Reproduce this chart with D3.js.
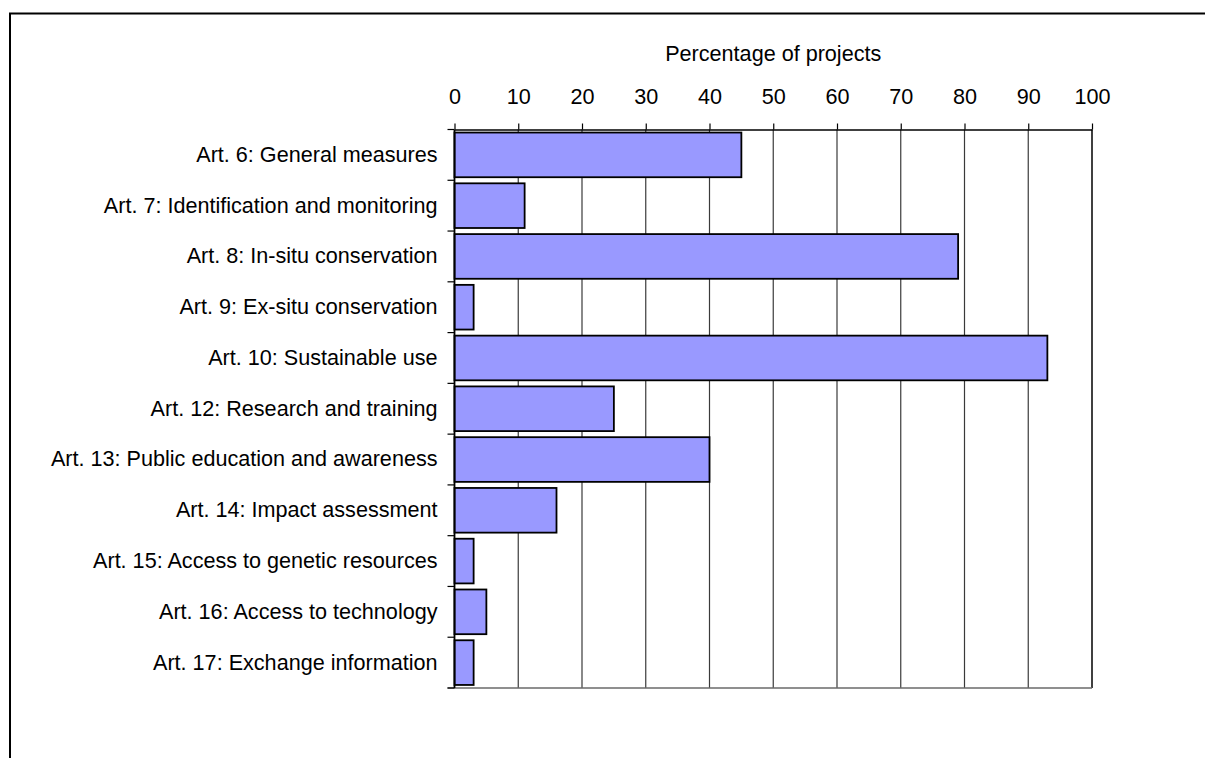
<!DOCTYPE html>
<html>
<head>
<meta charset="utf-8">
<script src="https://cdn.jsdelivr.net/npm/d3@7"></script>
<style>
  html, body { margin: 0; padding: 0; background: #ffffff; }
  svg { display: block; }
  text { font-family: "Liberation Sans", Arial, sans-serif; fill: #000; }
</style>
</head>
<body>
<svg id="chart" width="1205" height="758"></svg>
<script>
const categories = [
  "Art. 6: General measures",
  "Art. 7: Identification and monitoring",
  "Art. 8: In-situ conservation",
  "Art. 9: Ex-situ conservation",
  "Art. 10: Sustainable use",
  "Art. 12: Research and training",
  "Art. 13: Public education and awareness",
  "Art. 14: Impact assessment",
  "Art. 15: Access to genetic resources",
  "Art. 16: Access to technology",
  "Art. 17: Exchange information"
];
const values = [45, 11, 79, 3, 93, 25, 40, 16, 3, 5, 3];
const xTicks = [0, 10, 20, 30, 40, 50, 60, 70, 80, 90, 100];
const axisTitle = "Percentage of projects";

(function () {
const svg = d3.select("#chart");
const FS = "21.6px";
const FF = '"Liberation Sans", Arial, sans-serif';

// outer frame
svg.append("rect")
  .attr("x", 10).attr("y", 13.5)
  .attr("width", 1300).attr("height", 900)
  .attr("fill", "none").attr("stroke", "#000").attr("stroke-width", 2);

const pL = 454.5, pR = 1092, pT = 129.5, pB = 688;

const x = d3.scaleLinear().domain([0, 100]).range([pL, pR]);
const y = d3.scaleBand().domain(categories).range([pT, pB])
  .paddingInner(0.12).paddingOuter(0.06);

// gridlines
svg.append("g").selectAll("line")
  .data(xTicks.filter(t => t > 0 && t < 100))
  .join("line")
  .attr("x1", d => x(d)).attr("x2", d => x(d))
  .attr("y1", pT).attr("y2", pB)
  .attr("stroke", "#3a3a3a").attr("stroke-width", 1.2);

// plot border: right (black) and bottom (gray)
svg.append("line")
  .attr("x1", x(100)).attr("x2", x(100)).attr("y1", pT).attr("y2", pB)
  .attr("stroke", "#000").attr("stroke-width", 1.5);
svg.append("line")
  .attr("x1", pL - 7).attr("x2", x(100)).attr("y1", pB).attr("y2", pB)
  .attr("stroke", "#6a6a6a").attr("stroke-width", 1.5);

// bars
svg.append("g").selectAll("rect")
  .data(categories.map((c, i) => ({ c, v: values[i] })))
  .join("rect")
  .attr("x", x(0))
  .attr("y", d => y(d.c))
  .attr("width", d => x(d.v) - x(0))
  .attr("height", y.bandwidth())
  .attr("fill", "#9999ff")
  .attr("stroke", "#000")
  .attr("stroke-width", 1.8);

// top axis
const gx = svg.append("g")
  .attr("transform", `translate(0,${pT})`)
  .call(d3.axisTop(x).tickValues(xTicks).tickSize(6).tickSizeOuter(0).tickPadding(20));
gx.select(".domain").attr("stroke", "#000").attr("stroke-width", 1.5);
gx.selectAll(".tick line").attr("stroke", "#000").attr("stroke-width", 1.2);
gx.selectAll(".tick text").style("font-size", FS)
  .style("font-family", FF).attr("fill", "#000");

// left axis (category labels)
const gy = svg.append("g")
  .attr("transform", `translate(${pL},0)`)
  .call(d3.axisLeft(y).tickSize(0).tickSizeOuter(0).tickPadding(17));
gy.select(".domain").remove();
gy.selectAll(".tick text").style("font-size", FS)
  .style("font-family", FF).attr("fill", "#000");

// left axis line and boundary ticks
svg.append("line")
  .attr("x1", pL).attr("x2", pL).attr("y1", pT).attr("y2", pB)
  .attr("stroke", "#000").attr("stroke-width", 1.8);
const boundaries = categories.map(c => y(c) - y.step() * y.paddingInner() / 2)
  .concat([pB]);
svg.append("g").selectAll("line")
  .data(boundaries)
  .join("line")
  .attr("x1", pL - 7).attr("x2", pL)
  .attr("y1", d => d).attr("y2", d => d)
  .attr("stroke", "#000").attr("stroke-width", 1.2);

// axis title
svg.append("text")
  .attr("x", (pL + pR) / 2)
  .attr("y", 61)
  .attr("text-anchor", "middle")
  .style("font-size", FS)
  .style("font-family", FF)
  .text(axisTitle);
})();
</script>
</body>
</html>
